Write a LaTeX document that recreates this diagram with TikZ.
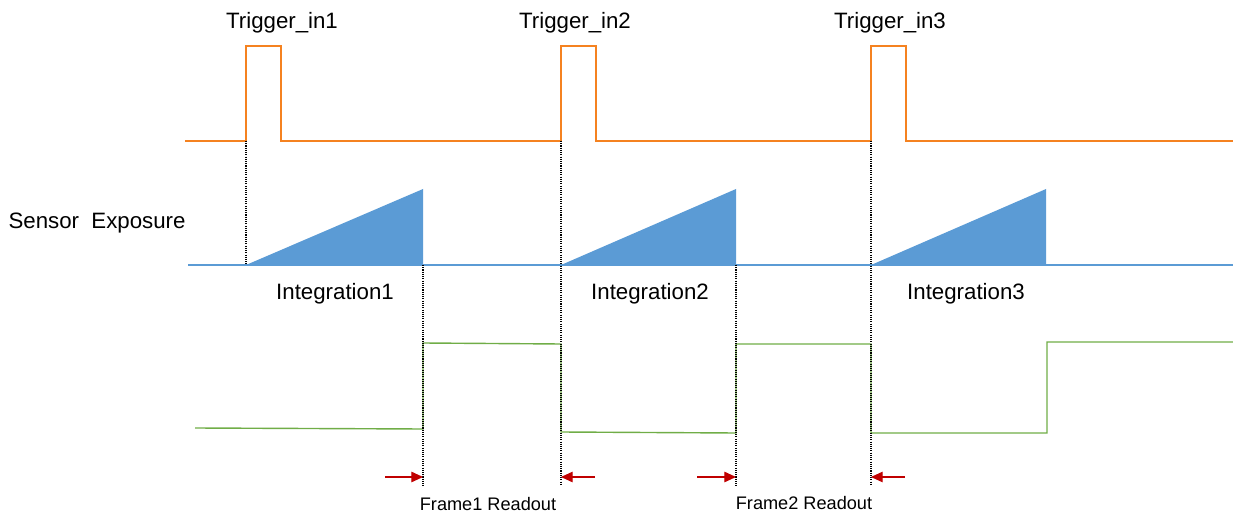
\documentclass[tikz,border=0pt]{standalone}
\usepackage{fontspec}
\setmainfont{Liberation Sans}
\usetikzlibrary{arrows.meta}
\definecolor{trigorange}{HTML}{F58220}
\definecolor{expblue}{HTML}{5B9BD5}
\definecolor{readgreen}{HTML}{70AD47}
\definecolor{arrred}{HTML}{C00000}
\tikzset{
  biglabel/.style={font=\fontsize{19}{22}\selectfont, inner sep=0pt},
  smalllabel/.style={font=\fontsize{15.5}{18}\selectfont, inner sep=0pt},
  guide/.style={black, densely dotted, line width=0.9pt},
  readarrow/.style={arrred, line width=0.9pt, -{Triangle[length=10pt,width=9pt]}}
}
\begin{document}
\begin{tikzpicture}[x=0.03cm, y=-0.03cm]
\useasboundingbox (0,0) rectangle (1233,515);
% trigger signal: three pulses
\draw[trigorange, line width=1.2pt] (185,141) -- (246,141) -- (246,46) -- (281,46) -- (281,141)
  -- (561,141) -- (561,46) -- (596,46) -- (596,141)
  -- (871,141) -- (871,46) -- (906,46) -- (906,141) -- (1233,141);
\foreach \n/\x in {1/282, 2/575, 3/890}
  {\node[biglabel] (trig\n) at (\x,23) {Trigger\_in\n};}
% sensor exposure: baseline and integration ramps
\draw[expblue, line width=1pt] (188,265) -- (1233,265);
\foreach \n/\a/\b/\lx in {1/246/423/335, 2/561/736/650, 3/871/1046/966}
  {\fill[expblue] (\a,265) -- (\b,189) -- (\b,265) -- cycle;
   \node[biglabel] (integ\n) at (\lx,294) {Integration\n};}
\node[biglabel] (exposure) at (97,223) {Sensor\ \ Exposure};
% readout signal
\draw[readgreen, line width=1.2pt] (195,428) -- (423,429) -- (423,343) -- (561,344) -- (561,432)
  -- (736,433) -- (736,344) -- (871,344) -- (871,433) -- (1047,433) -- (1047,342) -- (1233,342);
% dotted guides
\draw[guide] (246,141) -- (246,265);
\foreach \x in {423, 736}
  {\draw[guide] (\x,265) -- (\x,486);}
\foreach \x in {561, 871}
  {\draw[guide] (\x,141) -- (\x,486);}
% readout arrows
\foreach \n/\s/\e in {a/385/423, b/595/561, c/697/736, d/905/871}
  {\coordinate (rs\n) at (\s,477);
   \coordinate (re\n) at (\e,477);
   \draw[readarrow] (rs\n) -- (re\n);}
\node[smalllabel] (frame1) at (488,504) {Frame1 Readout};
\node[smalllabel] (frame2) at (804,503) {Frame2 Readout};
\end{tikzpicture}
\end{document}
